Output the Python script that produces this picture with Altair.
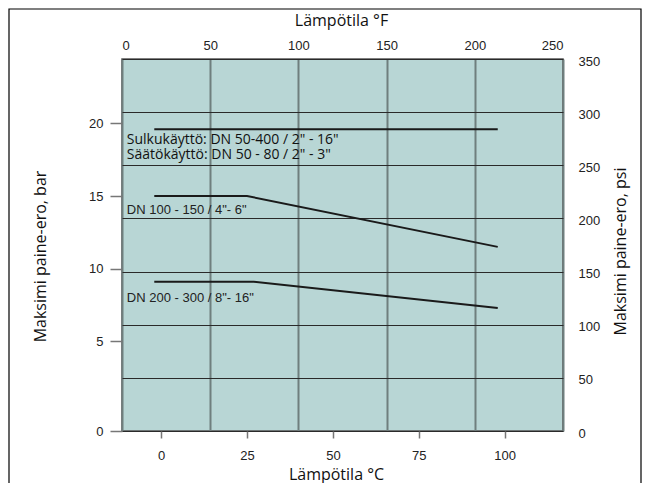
import altair as alt
import pandas as pd

# ---- data ----
SERIES = ["Sulku", "Sulku", "DN100", "DN100", "DN100", "DN200", "DN200", "DN200"]
TEMP_C = [-2, 98, -2, 25, 98, -2, 27, 98]
PRESSURE_BAR = [19.6, 19.6, 15.0, 15.0, 11.5, 9.1, 9.1, 7.3]

BAR_TICKS = [0, 5, 10, 15, 20]
C_TICKS = [0, 25, 50, 75, 100]
F_TICKS = [0, 50, 100, 150, 200, 250]
PSI_TICKS = [0, 50, 100, 150, 200, 250, 300, 350]

LABELS = [
    "Sulkukäyttö: DN 50-400 / 2\" - 16\"",
    "Säätökäyttö: DN 50 - 80 / 2\" - 3\"",
    "DN 100 - 150 / 4\"- 6\"",
    "DN 200 - 300 / 8\"- 16\"",
]
LABEL_C = [-10, -10, -10, -10]
LABEL_BAR = [18.85, 17.82, 14.04, 7.98]

W, H = 441, 372
AXIS_FONT = "Liberation Sans"
TITLE_FONT = "Open Sans"

lines_df = pd.DataFrame({"series": SERIES, "c": TEMP_C, "bar": PRESSURE_BAR})
labels_df = pd.DataFrame({"label": LABELS, "c": LABEL_C, "bar": LABEL_BAR})
grid_df = pd.DataFrame({"f": F_TICKS + [250, 250], "psi": PSI_TICKS})

x_c_scale = alt.Scale(domain=[-11.4, 117.0], nice=False, zero=False)
y_bar_scale = alt.Scale(domain=[0, 5, 24.43], range=[H, 282.3, 0], nice=False, zero=False)

lines = alt.Chart(lines_df).mark_line(color="#1a1a1a", strokeWidth=2).encode(
    x=alt.X("c:Q", scale=x_c_scale,
            axis=alt.Axis(orient="bottom", values=C_TICKS, grid=False, domain=False,
                          ticks=True, tickSize=7, tickColor="#777", tickWidth=1.5,
                          labelPadding=11, labelFont=AXIS_FONT, labelFontSize=13,
                          labelColor="#222", title="Lämpötila °C", titleFont=TITLE_FONT,
                          titleFontSize=16, titleFontWeight="normal", titleColor="#111",
                          titleX=214, titleY=43, titleBaseline="middle", titleAlign="center")),
    y=alt.Y("bar:Q", scale=y_bar_scale,
            axis=alt.Axis(orient="left", values=BAR_TICKS, grid=False, domain=False,
                          ticks=True, tickSize=12, tickColor="#777", tickWidth=1.5,
                          labelPadding=7, labelFont=AXIS_FONT, labelFontSize=13,
                          labelColor="#222", title="Maksimi paine-ero, bar",
                          titleFont=TITLE_FONT, titleFontSize=16, titleFontWeight="normal",
                          titleColor="#111", titleAngle=270, titleX=-82, titleY=197,
                          titleBaseline="middle", titleAlign="center")),
    detail="series:N",
)

texts_big = alt.Chart(labels_df.iloc[:2]).mark_text(
    align="left", baseline="middle", font=TITLE_FONT, fontSize=14, color="#111"
).encode(
    x=alt.X("c:Q", scale=x_c_scale, axis=None),
    y=alt.Y("bar:Q", scale=y_bar_scale, axis=None),
    text="label:N",
)

texts_small = alt.Chart(labels_df.iloc[2:]).mark_text(
    align="left", baseline="middle", font=AXIS_FONT, fontSize=13, color="#222"
).encode(
    x=alt.X("c:Q", scale=x_c_scale, axis=None),
    y=alt.Y("bar:Q", scale=y_bar_scale, axis=None),
    text="label:N",
)

grid = alt.Chart(grid_df).mark_point(opacity=0).encode(
    x=alt.X("f:Q", scale=alt.Scale(domain=[0, 250], nice=False, zero=False),
            axis=alt.Axis(orient="top", values=F_TICKS, grid=True, gridColor="#6f7f7e",
                          gridWidth=2, domain=False, ticks=False, tickSize=0,
                          labelPadding=7, labelFont=AXIS_FONT, labelFontSize=13,
                          labelColor="#222", title="Lämpötila °F", titleFont=TITLE_FONT,
                          titleFontSize=16, titleFontWeight="normal", titleColor="#111",
                          titleX=219, titleY=-39, titleBaseline="middle", titleAlign="center")),
    y=alt.Y("psi:Q", scale=alt.Scale(domain=[0, 350], nice=False, zero=False),
            axis=alt.Axis(orient="right", values=PSI_TICKS, grid=True, gridColor="#2a2a2a",
                          gridWidth=1, domain=False, ticks=False, tickSize=0,
                          labelPadding=15, labelOffset=2, labelFont=AXIS_FONT,
                          labelFontSize=13, labelColor="#222", title="Maksimi paine-ero, psi",
                          titleFont=TITLE_FONT, titleFontSize=16, titleFontWeight="normal",
                          titleColor="#111", titleAngle=270, titleX=57, titleY=192,
                          titleBaseline="middle", titleAlign="center")),
)

frame = alt.Chart(pd.DataFrame({"k": [0]})).mark_rect(
    fill=None, stroke="#000", strokeWidth=1.2, clip=False
).encode(
    x=alt.value(-113), x2=alt.value(519), y=alt.value(-50), y2=alt.value(H + 60)
)

chart = alt.layer(grid, lines, texts_big, texts_small, frame).resolve_scale(
    x="independent", y="independent"
).properties(
    width=W, height=H,
    autosize=alt.AutoSizeParams(type="none"),
    padding={"left": 114, "top": 51, "right": 79, "bottom": 52},
).configure_view(
    fill="#b8d6d5", stroke="#555", strokeWidth=1.5
)

chart.save("out.html", embed_options={"renderer": "svg", "actions": False})
